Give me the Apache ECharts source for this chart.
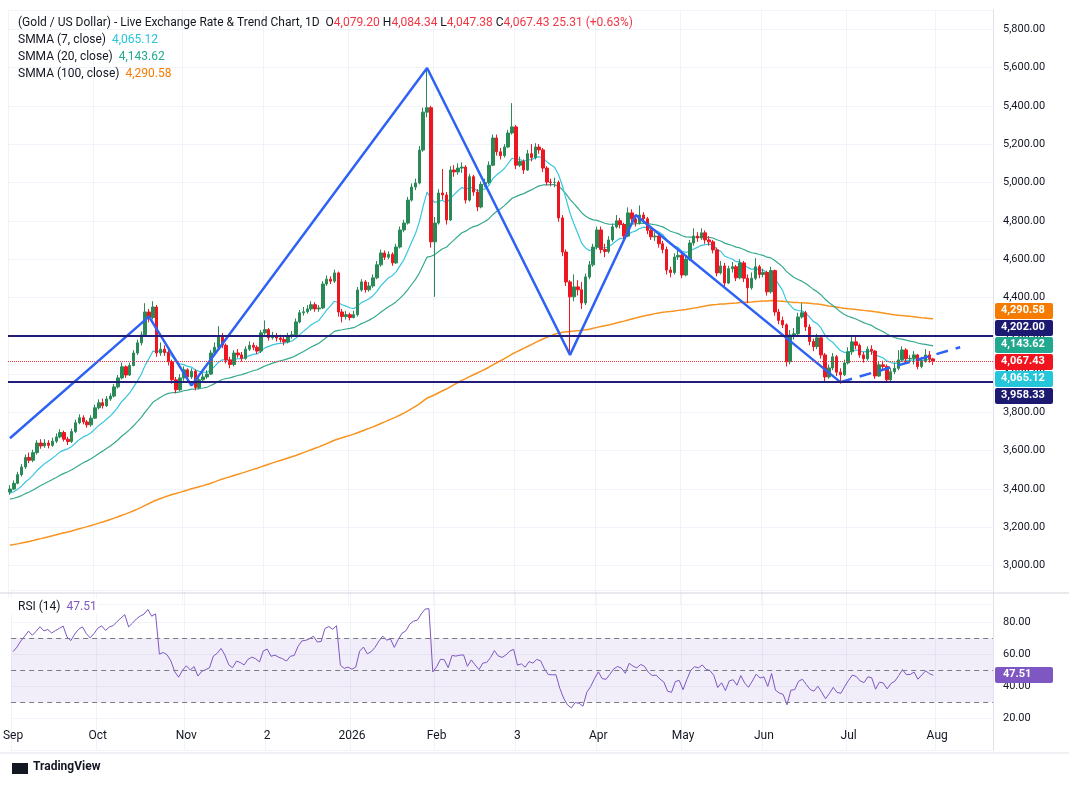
<!DOCTYPE html>
<html>
<head>
<meta charset="UTF-8">
<title>Gold / US Dollar</title>
<style>
  html, body { margin: 0; padding: 0; background: #fff; }
  #main { width: 1069px; height: 786px; }
</style>
</head>
<body>
<div id="main"></div>
<script src="https://cdn.jsdelivr.net/npm/echarts@6/dist/echarts.min.js"></script>
<script>
// daily candles: [close, high, low]; open = previous close
var firstOpen = 3385;
var candles = [
  [3400,3420,3370],[3430,3445,3395],[3475,3490,3425],[3515,3530,3465],[3565,3580,3505],
  [3550,3590,3535],[3590,3605,3540],[3640,3655,3580],[3625,3660,3610],[3640,3660,3615],
  [3628,3655,3612],[3650,3668,3620],[3672,3690,3640],[3695,3712,3665],[3660,3705,3648],
  [3648,3672,3630],[3700,3715,3640],[3746,3762,3692],[3772,3790,3738],[3750,3785,3738],
  [3735,3760,3720],[3770,3785,3725],[3824,3840,3765],[3850,3868,3815],[3835,3872,3820],
  [3870,3885,3828],[3885,3900,3860],[3933,3948,3878],[3980,3995,3925],[4038,4060,3972],
  [3995,4045,3980],[4045,4060,3990],[4110,4125,4040],[4163,4180,4100],[4205,4222,4150],
  [4324,4370,4195],[4295,4340,4270],[4350,4380,4285],[4110,4360,4090],[4130,4165,4095],
  [4112,4150,4095],[4064,4125,4045],[3970,4075,3950],[3918,3985,3900],[3980,4000,3910],
  [4022,4040,3965],[3985,4030,3970],[4015,4030,3975],[3930,4025,3915],[3970,3990,3920],
  [3985,4005,3960],[4000,4020,3975],[4110,4125,3995],[4140,4165,4100],[4195,4250,4130],
  [4150,4215,4135],[4074,4160,4055],[4050,4090,4030],[4110,4125,4040],[4100,4130,4085],
  [4082,4115,4065],[4130,4145,4075],[4150,4170,4120],[4140,4165,4125],[4120,4150,4105],
  [4215,4230,4110],[4232,4280,4205],[4190,4240,4175],[4200,4220,4180],[4188,4215,4170],
  [4180,4205,4165],[4168,4195,4150],[4200,4215,4160],[4205,4225,4185],[4272,4290,4200],
  [4320,4335,4265],[4325,4350,4305],[4340,4360,4315],[4362,4380,4330],[4340,4375,4325],
  [4345,4360,4325],[4470,4485,4340],[4495,4515,4460],[4485,4510,4470],[4528,4545,4475],
  [4324,4535,4300],[4300,4340,4270],[4310,4330,4285],[4295,4320,4280],[4310,4330,4290],
  [4439,4455,4300],[4481,4495,4430],[4440,4490,4425],[4460,4480,4430],[4502,4520,4450],
  [4570,4590,4495],[4632,4650,4560],[4610,4645,4595],[4625,4640,4600],[4580,4635,4565],
  [4663,4680,4575],[4752,4770,4655],[4788,4805,4740],[4908,4925,4780],[4976,4995,4900],
  [4997,5020,4960],[5169,5190,4990],[5367,5390,5160],[5390,5597,5340],[4690,5400,4660],
  [4788,4820,4403],[4945,4965,4780],[4935,5070,4910],[4804,4950,4780],[5065,5085,4800],
  [5055,5090,5030],[5075,5100,5040],[5080,5105,5050],[4908,5090,4890],[5030,5045,4900],
  [4950,5040,4930],[4872,4965,4850],[4990,5005,4865],[5000,5020,4975],[5090,5110,4990],
  [5232,5250,5085],[5160,5250,5140],[5140,5180,5120],[5185,5200,5130],[5258,5275,5180],
  [5290,5414,5250],[5090,5300,5070],[5110,5135,5080],[5065,5120,5045],[5150,5170,5060],
  [5130,5200,5110],[5185,5205,5120],[5170,5200,5150],[5075,5180,5055],[5002,5085,4985],
  [5000,5020,4980],[5000,5025,4975],[4815,5010,4795],[4637,4830,4615],[4481,4650,4460],
  [4403,4490,4100],[4455,4520,4380],[4440,4490,4410],[4371,4480,4340],[4507,4525,4360],
  [4570,4590,4495],[4663,4680,4560],[4752,4770,4650],[4650,4770,4630],[4640,4680,4610],
  [4700,4720,4630],[4768,4785,4690],[4800,4830,4760],[4780,4815,4760],[4720,4790,4700],
  [4841,4870,4715],[4810,4860,4790],[4790,4830,4770],[4830,4880,4780],[4810,4845,4790],
  [4750,4820,4730],[4716,4760,4700],[4720,4740,4695],[4680,4730,4660],[4650,4695,4630],
  [4543,4665,4520],[4530,4560,4505],[4611,4630,4520],[4620,4650,4595],[4517,4630,4500],
  [4600,4620,4510],[4684,4700,4590],[4720,4760,4670],[4710,4740,4690],[4737,4760,4700],
  [4700,4750,4680],[4690,4720,4670],[4648,4700,4630],[4528,4660,4510],[4564,4590,4520],
  [4475,4580,4455],[4550,4565,4470],[4560,4585,4530],[4502,4570,4485],[4580,4600,4495],
  [4500,4590,4480],[4450,4520,4370],[4500,4530,4440],[4560,4605,4490],[4520,4570,4500],
  [4530,4550,4505],[4429,4540,4410],[4540,4560,4420],[4324,4545,4305],[4280,4340,4260],
  [4257,4300,4240],[4064,4265,4040],[4204,4230,4050],[4210,4240,4180],[4298,4320,4200],
  [4320,4370,4290],[4246,4330,4225],[4170,4260,4150],[4143,4185,4120],[4189,4210,4130],
  [4100,4200,4080],[3985,4110,3960],[4032,4050,3975],[4090,4110,4020],[4010,4100,3990],
  [3996,4030,3950],[4058,4075,3990],[4116,4140,4050],[4168,4200,4100],[4150,4200,4130],
  [4100,4160,4085],[4080,4115,4060],[4130,4145,4070],[4120,4150,4100],[3990,4125,3975],
  [4048,4065,3985],[4040,4070,4020],[3970,4050,3955],[4012,4030,3960],[4030,4060,4000],
  [4074,4125,4020],[4126,4145,4065],[4080,4135,4060],[4082,4100,4060],[4100,4120,4050],
  [4040,4105,4025],[4070,4090,4030],[4100,4130,4060],[4079.2,4120,4060],[4067.43,4084.34,4047.38]
];

// indicator seeds (values of the lines at the left edge of the picture)
var smmaSeeds = { 7: 3375, 20: 3345, 100: 3104 };
var rsiSeedGain = 18, rsiSeedLoss = 12;

// zigzag pattern: [category index, price]
var zigzag = [[0,3665],[36,4300],[47,3940],[108,5597],[145,4100],[162,4830],[215,3958]];
var zigzagDash = [[215,3958],[246,4140]];

var levelHigh = 4202.00, levelLow = 3958.33, lastPrice = 4067.43;

// x labels at month starts
var monthTicks = {
  '2025-09-01':'Sep','2025-10-01':'Oct','2025-11-03':'Nov','2025-12-02':'2',
  '2026-01-01':'2026','2026-02-02':'Feb','2026-03-03':'3','2026-04-01':'Apr',
  '2026-05-01':'May','2026-06-01':'Jun','2026-07-01':'Jul','2026-08-03':'Aug'
};
var totalSlots = 255;

// ---- build ----
var dates = [];
var d = new Date(Date.UTC(2025, 8, 1));
while (dates.length < totalSlots) {
    var wd = d.getUTCDay();
    if (wd !== 0 && wd !== 6) dates.push(d.toISOString().slice(0, 10));
    d.setUTCDate(d.getUTCDate() + 1);
}

var closes = candles.map(function (c) { return c[0]; });
var ohlc = candles.map(function (c, i) {
    var o = i === 0 ? firstOpen : candles[i - 1][0];
    return [o, c[0], c[2], c[1]];
});

function smma(n) {
    var prev = smmaSeeds[n], out = [];
    closes.forEach(function (c) { prev = (prev * (n - 1) + c) / n; out.push(+prev.toFixed(2)); });
    return out;
}
function rsi14() {
    var g = rsiSeedGain, l = rsiSeedLoss, out = [];
    var prev = firstOpen;
    closes.forEach(function (c) {
        var ch = c - prev; prev = c;
        g = (g * 13 + Math.max(ch, 0)) / 14;
        l = (l * 13 + Math.max(-ch, 0)) / 14;
        out.push(+(100 - 100 / (1 + g / l)).toFixed(2));
    });
    return out;
}
var sm7 = smma(7), sm20 = smma(20), sm100 = smma(100), rsi = rsi14();

var fmt = function (v) { return v.toLocaleString('en-US', {minimumFractionDigits: 2, maximumFractionDigits: 2}); };
var isTick = function (i) { return monthTicks[dates[i]] !== undefined; };

var font = 'Roboto, "Noto Sans", sans-serif';
function rt(color) { return {fill: color, fontSize: 12, fontFamily: font}; }
var tagBoxes = [
    ['4,290.58', '#f57c00', 311], ['4,202.00', '#1c1a70', 328], ['4,143.62', '#22a88f', 345],
    ['4,067.43', '#f0141e', 362], ['4,065.12', '#26c6da', 379], ['3,958.33', '#1c1a70', 396]
];
var graphics = [
    {type:'line', z:100, shape:{x1:0,y1:593,x2:1069,y2:593}, style:{stroke:'#d1d4dc', lineWidth:1}},
    {type:'line', z:100, shape:{x1:0,y1:753,x2:1069,y2:753}, style:{stroke:'#e0e3eb', lineWidth:1}},
    {type:'text', z:100, left:18, top:17, style:{rich:{r:rt('#f23645'), k:rt('#131722')},
        text:'{k|(Gold / US Dollar) - Live Exchange Rate & Trend Chart, 1D  O}{r|4,079.20}{k| H}{r|4,084.34}{k| L}{r|4,047.38}{k| C}{r|4,067.43 25.31 (+0.63%)}'}},
    {type:'text', z:100, left:18, top:34, style:{rich:{k:rt('#131722'), v:rt('#26c6da')}, text:'{k|SMMA (7, close)  }{v|4,065.12}'}},
    {type:'text', z:100, left:18, top:51, style:{rich:{k:rt('#131722'), v:rt('#22a88f')}, text:'{k|SMMA (20, close)  }{v|4,143.62}'}},
    {type:'text', z:100, left:18, top:68, style:{rich:{k:rt('#131722'), v:rt('#f57c00')}, text:'{k|SMMA (100, close)  }{v|4,290.58}'}},
    {type:'rect', z:100, left:8, top:598, shape:{width:90, height:16}, style:{fill:'#fff'}},
    {type:'text', z:101, left:18, top:601, style:{rich:{k:rt('#131722'), v:rt('#7e57c2')}, text:'{k|RSI (14)  }{v|47.51}'}},
    {type:'rect', z:100, left:995, top:667, shape:{width:58, height:16, r:2}, style:{fill:'#7e57c2'}},
    {type:'text', z:101, left:1003, top:669, style:{text:'47.51', fill:'#fff', fontSize:11, fontWeight:'bold', fontFamily:font}},
    {type:'rect', z:100, left:12, top:763, shape:{width:16, height:11}, style:{fill:'#131722'}},
    {type:'text', z:100, left:33, top:761, style:{text:'TradingView', fill:'#131722', fontSize:12, fontWeight:'bold', fontFamily:font}}
];
tagBoxes.forEach(function (t) {
    graphics.push({type:'rect', z:100, left:995, top:t[2] - 8, shape:{width:58, height:16, r:2}, style:{fill:t[1]}});
    graphics.push({type:'text', z:101, left:1001, top:t[2] - 6, style:{text:t[0], fill:'#fff', fontSize:11, fontWeight:'bold', fontFamily:font}});
});

var chart = echarts.init(document.getElementById('main'));
chart.setOption({
    animation: false,
    backgroundColor: '#fff',
    textStyle: {fontFamily: font},
    grid: [
        {left: 8, right: 76, top: 10, height: 594},
        {left: 8, right: 76, top: 590, height: 160}
    ],
    xAxis: [
        {type:'category', data:dates, gridIndex:0, boundaryGap:true,
         axisLine:{show:false}, axisTick:{show:false}, axisLabel:{show:false},
         splitLine:{show:true, interval:function(i){return isTick(i);}, lineStyle:{color:'#f0f3fa'}}},
        {type:'category', data:dates, gridIndex:1, boundaryGap:true,
         axisLine:{show:false}, axisTick:{show:false},
         axisLabel:{interval:function(i){return isTick(i);}, formatter:function(v){return monthTicks[v] || '';},
                    margin:-20, color:'#131722', fontSize:12},
         splitLine:{show:true, interval:function(i){return isTick(i);}, lineStyle:{color:'#f0f3fa'}}}
    ],
    yAxis: [
        {type:'value', gridIndex:0, position:'right', min:2800, max:5900, interval:200,
         axisLine:{show:true, lineStyle:{color:'#e0e3eb'}}, axisTick:{show:false},
         axisLabel:{color:'#131722', fontSize:11, margin:10, formatter:function(v){return (v < 3000 || v > 5800) ? '' : fmt(v);}},
         splitLine:{lineStyle:{color:'#f0f3fa'}}},
        {type:'value', gridIndex:1, position:'right', min:0, max:100, interval:20,
         axisLine:{show:true, lineStyle:{color:'#e0e3eb'}}, axisTick:{show:false},
         axisLabel:{color:'#131722', fontSize:11, margin:10, formatter:function(v){return (v < 20 || v > 80) ? '' : fmt(v);}},
         splitLine:{lineStyle:{color:'#f0f3fa'}}}
    ],
    series: [
        {name:'SMMA100', type:'line', data:sm100, showSymbol:false, lineStyle:{color:'#f7931e', width:1.5}, z:2},
        {name:'SMMA20', type:'line', data:sm20, showSymbol:false, lineStyle:{color:'#36a98f', width:1.2}, z:2},
        {name:'SMMA7', type:'line', data:sm7, showSymbol:false, lineStyle:{color:'#37c6e0', width:1.2}, z:2},
        {name:'Gold', type:'candlestick', data:ohlc, barWidth:3, z:3,
         itemStyle:{color:'#2a8a57', color0:'#ee1620', borderColor:'#2a8a57', borderColor0:'#ee1620', borderWidth:1},
         markLine:{symbol:'none', silent:true, label:{show:false},
            data:[
                {yAxis:levelHigh, lineStyle:{color:'#221c7a', width:2, type:'solid'}},
                {yAxis:levelLow, lineStyle:{color:'#221c7a', width:2, type:'solid'}},
                {yAxis:lastPrice, lineStyle:{color:'#f23645', width:1, type:'dotted'}}
            ]}},
        {name:'zigzag', type:'line', data:zigzag, showSymbol:false, lineStyle:{color:'#2e62f5', width:2.5}, z:4},
        {name:'zigzagDash', type:'line', data:zigzagDash, showSymbol:false, lineStyle:{color:'#2e62f5', width:2.5, type:[12, 8]}, z:4},
        {name:'RSI', type:'line', xAxisIndex:1, yAxisIndex:1, data:rsi, showSymbol:false,
         lineStyle:{color:'#7e57c2', width:1},
         markArea:{silent:true, itemStyle:{color:'rgba(126,87,194,0.1)'}, data:[[{yAxis:30},{yAxis:70}]]},
         markLine:{symbol:'none', silent:true, label:{show:false},
            lineStyle:{color:'#787b86', type:[5, 4], width:1},
            data:[{yAxis:70},{yAxis:50},{yAxis:30}]}}
    ],
    graphic: graphics
});
</script>
</body>
</html>
